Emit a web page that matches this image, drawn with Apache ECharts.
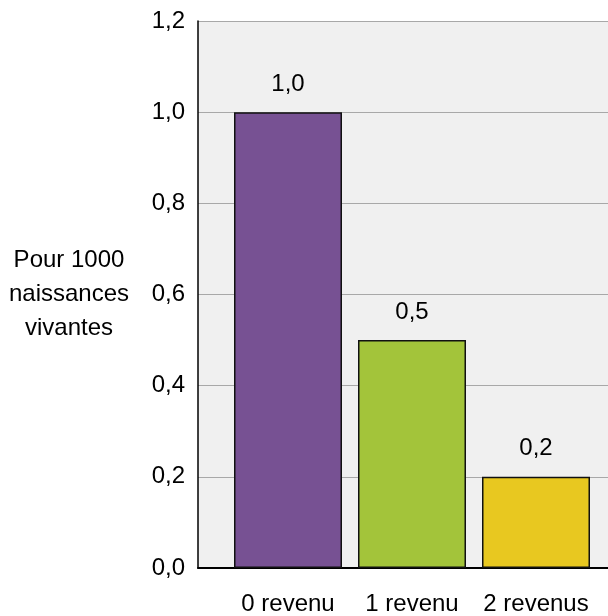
<!DOCTYPE html>
<html>
<head>
<meta charset="utf-8">
<script src="https://cdn.jsdelivr.net/npm/echarts@6/dist/echarts.min.js"></script>
<style>html,body{margin:0;padding:0;background:#fff;}#c{width:608px;height:616px;}</style>
</head>
<body>
<div id="c"></div>
<script>
var categories = ['0 revenu', '1 revenu', '2 revenus'];
var values = [1.0, 0.5, 0.2];
var barColors = ['#775193', '#a3c43a', '#e8c820'];
var yTicks = [0, 0.2, 0.4, 0.6, 0.8, 1.0, 1.2];
var yTitle = 'Pour 1000\nnaissances\nvivantes';

var FONT = '"Liberation Sans", Arial, sans-serif';
var FS = 24;
function fr(v){ return v.toFixed(1).replace('.', ','); }

var chart = echarts.init(document.getElementById('c'), null, {renderer:'canvas'});
chart.setOption({
  animation: false,
  backgroundColor: '#ffffff',
  grid: [
    {left:198, right:0, top:21, bottom:48, show:true, backgroundColor:'#f0f0f0', borderWidth:0},
    {left:226, right:10, top:21, bottom:48}
  ],
  xAxis: [
    {gridIndex:0, type:'category', data:categories, axisLine:{show:true, lineStyle:{color:'#000', width:2}},
     axisTick:{show:false}, axisLabel:{show:false}, splitLine:{show:false}},
    {gridIndex:1, type:'category', data:categories, axisLine:{show:false}, axisTick:{show:false},
     axisLabel:{show:true, interval:0, margin:24, color:'#000', fontFamily:FONT, fontSize:FS}}
  ],
  yAxis: [
    {gridIndex:0, type:'value', min:yTicks[0], max:yTicks[yTicks.length-1], interval:0.2,
     axisLine:{show:true, lineStyle:{color:'#000', width:1.5}}, axisTick:{show:false},
     axisLabel:{margin:13, color:'#000', fontFamily:FONT, fontSize:FS, formatter:function(v){return fr(v);}},
     splitLine:{show:true, lineStyle:{color:'#a8a8a8', width:1}}},
    {gridIndex:1, type:'value', min:yTicks[0], max:yTicks[yTicks.length-1], interval:0.2, show:false}
  ],
  graphic: [{
    type:'text', x:69, y:294,
    style:{text:yTitle, textAlign:'center', textVerticalAlign:'middle', fill:'#000',
      font:FS + 'px "Liberation Sans", Arial, sans-serif', lineHeight:34}
  }],
  series: [{
    type:'bar', xAxisIndex:1, yAxisIndex:1, barWidth:108,
    data: values.map(function(v,i){ return {value:v, itemStyle:{color:barColors[i]}}; }),
    itemStyle:{borderColor:'#111', borderWidth:1.5},
    label:{show:true, position:'top', distance:16, color:'#000', fontFamily:FONT, fontSize:FS,
      formatter:function(p){ return fr(p.value); }}
  }]
});
</script>
</body>
</html>
